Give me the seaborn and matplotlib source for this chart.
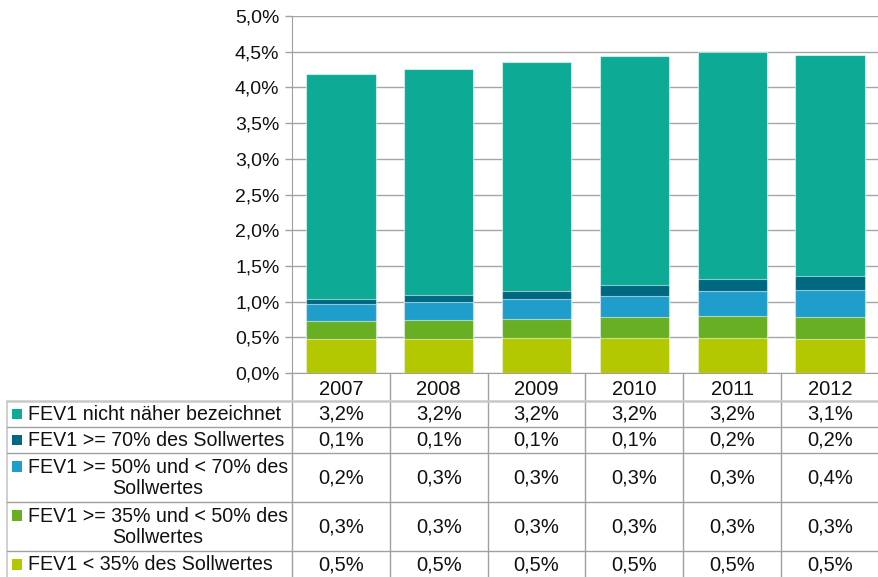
import numpy as np
import pandas as pd
import matplotlib
matplotlib.use("Agg")
import matplotlib.pyplot as plt
import seaborn as sns
from matplotlib.ticker import FuncFormatter

# data (percent of insured), bottom series first
years = ["2007", "2008", "2009", "2010", "2011", "2012"]
series = [
    "FEV1 < 35% des Sollwertes",
    "FEV1 >= 35% und < 50% des\nSollwertes",
    "FEV1 >= 50% und < 70% des\nSollwertes",
    "FEV1 >= 70% des Sollwertes",
    "FEV1 nicht näher bezeichnet",
]
lt35 = [0.476, 0.481, 0.485, 0.485, 0.495, 0.481]
p35_50 = [0.257, 0.261, 0.271, 0.295, 0.308, 0.299]
p50_70 = [0.229, 0.252, 0.280, 0.303, 0.345, 0.382]
ge70 = [0.070, 0.094, 0.117, 0.145, 0.173, 0.192]
unspec = [3.160, 3.170, 3.207, 3.212, 3.179, 3.100]
colors = ["#B3C800", "#69AF23", "#1F9ECC", "#006880", "#0DAA96"]

values = [lt35, p35_50, p50_70, ge70, unspec]

sns.set_style("white")
plt.rcParams["font.family"] = ["Liberation Sans", "DejaVu Sans"]

W, H = 879, 577
fig = plt.figure(figsize=(W / 100, H / 100), dpi=100)

# plot area in pixels
left, right, top, zero = 292, 879, 16, 373
ax = fig.add_axes([left / W, 1 - zero / H, (right - left) / W, (zero - top) / H])

# stacked bars: draw cumulative totals from the top series down
cum = np.cumsum(np.array(values), axis=0)
for i in range(len(series) - 1, -1, -1):
    df = pd.DataFrame({"year": years, "val": cum[i]})
    sns.barplot(data=df, x="year", y="val", color=colors[i], width=0.71,
                saturation=1, edgecolor=(1, 1, 1, 0.55), linewidth=0.8,
                ax=ax, zorder=3)

ax.set_ylim(0, 5)
ax.set_yticks(np.arange(0, 5.01, 0.5))
ax.yaxis.set_major_formatter(FuncFormatter(lambda v, p: f"{v:.1f}%".replace(".", ",")))
ax.yaxis.grid(True, color="#A6A6A6", linewidth=1)
ax.set_axisbelow(True)
ax.tick_params(axis="y", left=True, length=5, width=1, color="#A0A0A0",
               labelsize=14, pad=4, labelcolor="#111111")
ax.tick_params(axis="x", length=0, labelsize=14.5, pad=5, labelcolor="#111111")
ax.set_xlabel("")
ax.set_ylabel("")
for s in ["top", "right"]:
    ax.spines[s].set_visible(False)
ax.spines["left"].set_color("#A0A0A0")
ax.spines["bottom"].set_color("#A0A0A0")

# data table below the plot
tab = fig.add_axes([0, 0, 1, 1], zorder=5)
tab.set_xlim(0, W)
tab.set_ylim(H, 0)
tab.axis("off")
tab.patch.set_alpha(0)

line_c = "#A0A0A0"
colw = (right - left) / len(years)
row_lines = [401, 427, 453, 502, 551, 578]
rows_top_down = list(range(len(series) - 1, -1, -1))

# vertical lines
for k in range(len(years)):
    x = left + k * colw
    tab.plot([x, x], [zero, H], color=line_c, lw=1)
tab.plot([7, 7], [401, H], color="#C8C8C8", lw=1.2)
# horizontal lines
tab.plot([7, right], [401, 401], color="#C8C8C8", lw=1.8)
for y in row_lines[1:-1]:
    tab.plot([7, right], [y, y], color=line_c, lw=1)

for r, si in enumerate(rows_top_down):
    y0, y1 = row_lines[r], row_lines[r + 1]
    ymid = (y0 + y1) / 2
    two = "\n" in series[si]
    key_y = y0 + 13.5 if two else ymid
    tab.add_patch(plt.Rectangle((12, key_y - 5.2), 10.5, 10.5,
                                color=colors[si], lw=0))
    tab.text(28, ymid + 0.5, series[si], ha="left", va="center",
             multialignment="center", fontsize=14.1, color="#111111",
             linespacing=1.18)
    for k, v in enumerate(values[si]):
        tab.text(left + (k + 0.5) * colw, ymid + 0.5, f"{v:.1f}%".replace(".", ","),
                 ha="center", va="center", fontsize=14.5, color="#111111")

fig.savefig("out.png", dpi=100)
